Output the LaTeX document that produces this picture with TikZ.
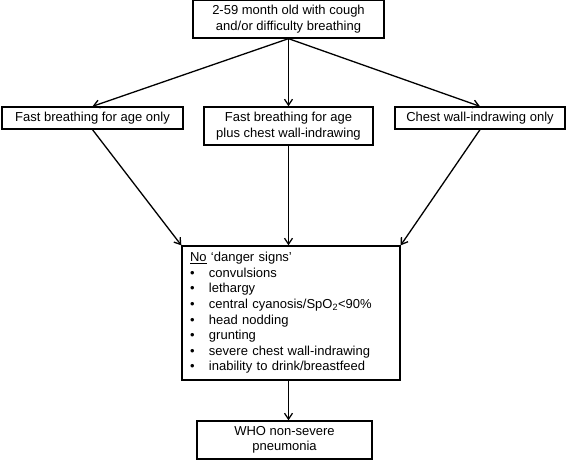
\documentclass[tikz,border=0pt]{standalone}
\usepackage{fontspec}
\setmainfont{Liberation Sans}
\usetikzlibrary{arrows.meta,positioning}
\tikzset{
  flowbox/.style={draw, line width=1.3pt, inner sep=0pt, align=center,
                  font=\fontsize{13}{15.6}\selectfont},
  flowarr/.style={-{Straight Barb[length=6pt,width=8pt]}, line width=1.3pt}}
\newcommand{\bulletitem}[1]{\makebox[19pt][l]{\textbullet}#1}

\begin{document}
\begin{tikzpicture}[x=1pt,y=-1pt]
  \useasboundingbox (0,0) rectangle (568,460);
  % boxes
  \node[flowbox, minimum width=191, minimum height=38] (start) at (288.5,19)
    {2-59 month old with cough\\and/or difficulty breathing};
  \node[flowbox, minimum width=181, minimum height=22] (fastonly) at (92.5,118)
    {Fast breathing for age only};
  \node[flowbox, minimum width=169, minimum height=38] (fastplus) at (288.5,126)
    {Fast breathing for age\\plus chest wall-indrawing};
  \node[flowbox, minimum width=170, minimum height=22] (indraw) at (480,118)
    {Chest wall-indrawing only};
  \node[flowbox, align=left, text width=202pt, inner xsep=8pt,
        minimum height=134] (danger) at (291,313)
    {\underline{No} ‘danger signs’\\
     \bulletitem{convulsions}\\
     \bulletitem{lethargy}\\
     \bulletitem{central cyanosis/SpO\textsubscript{2}<90\%}\\
     \bulletitem{head nodding}\\
     \bulletitem{grunting}\\
     \bulletitem{severe chest wall-indrawing}\\
     \bulletitem{inability to drink/breastfeed}};
  \node[flowbox, minimum width=175, minimum height=38] (who) at (284.5,440)
    {WHO non-severe\\pneumonia};
  % connectors
  \draw[flowarr] (start.south) -- (fastonly.north);
  \draw[flowarr] (start.south) -- (fastplus.north);
  \draw[flowarr] (start.south) -- (indraw.north);
  \draw[flowarr] (fastonly.south) -- (danger.north west);
  \draw[flowarr] (fastplus.south) -- (fastplus.south |- danger.north);
  \draw[flowarr] (indraw.south) -- (danger.north east);
  \draw[flowarr] (fastplus.south |- danger.south) -- (fastplus.south |- who.north);
\end{tikzpicture}
\end{document}
